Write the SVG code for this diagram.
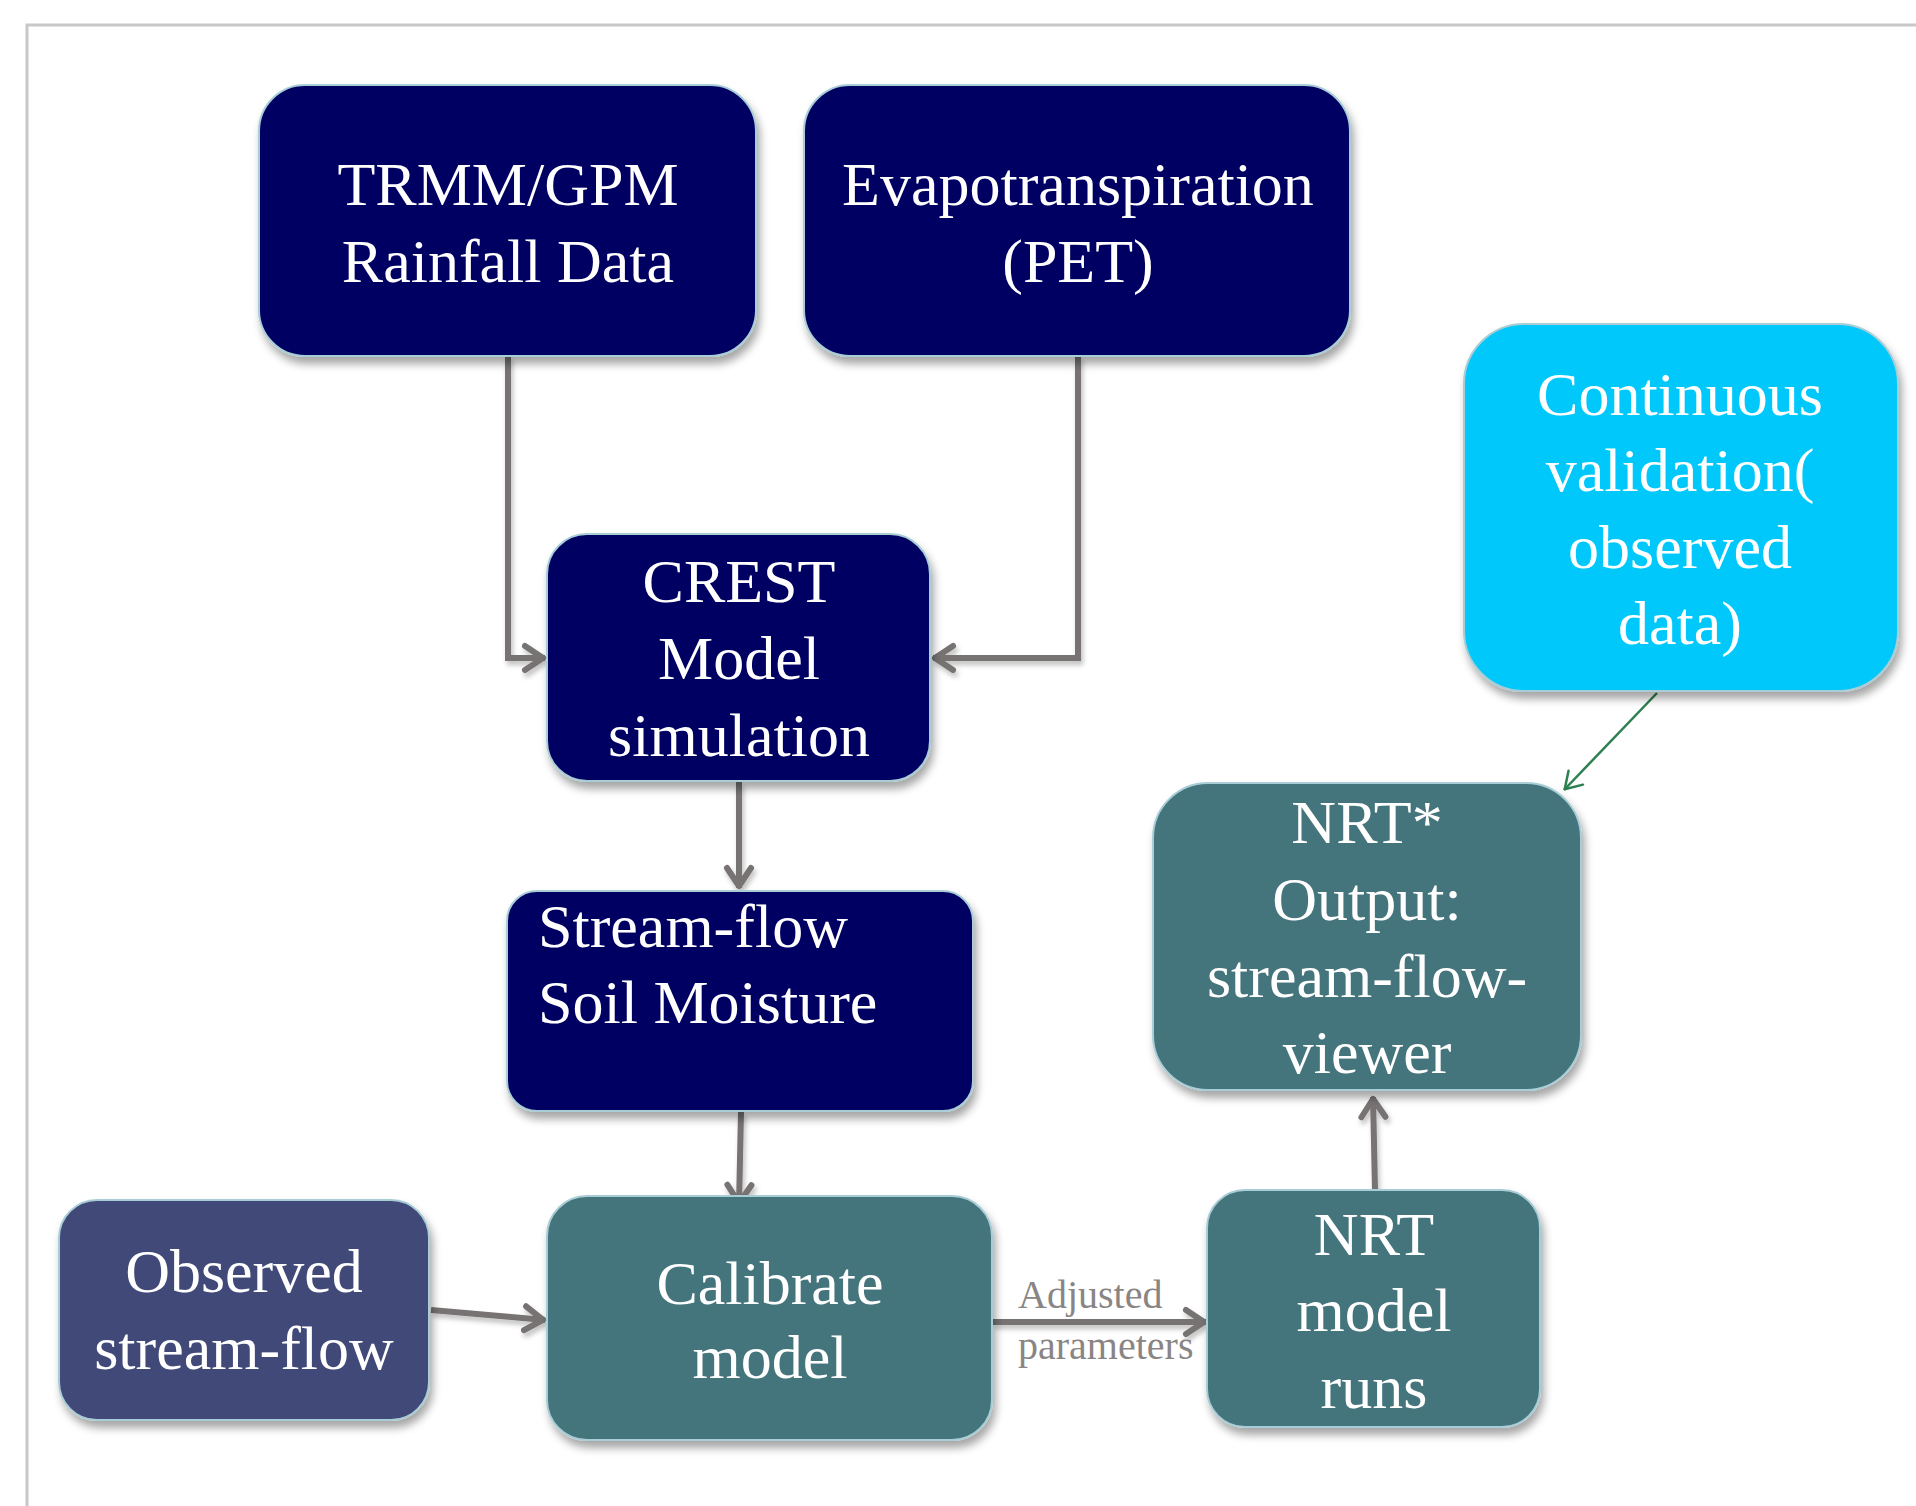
<svg xmlns="http://www.w3.org/2000/svg" width="1916" height="1506" viewBox="0 0 1916 1506">
<style>
.box{stroke:#a9cdd6;stroke-width:2;filter:url(#sh)}
.navy{fill:#020264}
.teal{fill:#45757b}
.obs{fill:#3f4877}
.cyan{fill:#00c8fa}
.t{font-family:"Liberation Serif","Times New Roman",serif;font-size:62px;fill:#ffffff}
.c{text-anchor:middle}
.conn{fill:none;stroke:#777373;stroke-width:6;filter:url(#lsh)}
.lbl{font-family:"Liberation Serif","Times New Roman",serif;font-size:40px;fill:#8a8585}
</style>
<defs>
<filter id="sh" x="-10%" y="-10%" width="125%" height="130%">
<feDropShadow dx="3" dy="7" stdDeviation="4" flood-color="#000" flood-opacity="0.35"/>
</filter>
<filter id="lsh" filterUnits="userSpaceOnUse" x="0" y="0" width="1916" height="1506">
<feDropShadow dx="2" dy="4" stdDeviation="2.5" flood-color="#000" flood-opacity="0.25"/>
</filter>
<marker id="ag" viewBox="-26 -16 30 32" markerWidth="30" markerHeight="32" refX="0" refY="0" orient="auto" markerUnits="userSpaceOnUse">
<path d="M-20,-12 L-2,0 L-20,12" fill="none" stroke="#777373" stroke-width="6" stroke-linecap="round" stroke-linejoin="round"/>
</marker>
<marker id="agr" viewBox="-22 -14 26 28" markerWidth="26" markerHeight="28" refX="0" refY="0" orient="auto" markerUnits="userSpaceOnUse">
<path d="M-17,-10 L-1,0 L-17,10" fill="none" stroke="#2e8050" stroke-width="2.5" stroke-linecap="round" stroke-linejoin="round"/>
</marker>
</defs>
<rect width="1916" height="1506" fill="#ffffff"/>
<path d="M1916,25 H27 V1506" fill="none" stroke="#c8c8c8" stroke-width="3"/>

<g id="connectors">
<path class="conn" d="M508,356 V658 H545" marker-end="url(#ag)"/>
<path class="conn" d="M1078,356 V658 H933" marker-end="url(#ag)"/>
<path class="conn" d="M739,782 V888" marker-end="url(#ag)"/>
<path class="conn" d="M741,1112 L739,1205" marker-end="url(#ag)"/>
<path class="conn" d="M431,1310 L545,1320" marker-end="url(#ag)"/>
<path class="conn" d="M993,1322 H1206" marker-end="url(#ag)"/>
<path class="conn" d="M1375,1190 L1373,1097" marker-end="url(#ag)"/>
<path d="M1657,693 L1564,790" fill="none" stroke="#2e8050" stroke-width="2.5" marker-end="url(#agr)"/>
<text class="lbl" x="1018" y="1308">Adjusted</text>
<text class="lbl" x="1018" y="1359">parameters</text>
</g>

<g id="trmm">
<rect class="box navy" x="259" y="85" width="497" height="271" rx="46"/>
<text class="t c" x="508" y="205">TRMM/GPM</text>
<text class="t c" x="508" y="282">Rainfall Data</text>
</g>

<g id="pet">
<rect class="box navy" x="804" y="85" width="546" height="271" rx="46"/>
<text class="t c" x="1078" y="205">Evapotranspiration</text>
<text class="t c" x="1078" y="282">(PET)</text>
</g>

<g id="validation">
<rect class="box cyan" x="1464" y="324" width="434" height="367" rx="60"/>
<text class="t c" x="1680" y="415">Continuous</text>
<text class="t c" x="1680" y="491">validation(</text>
<text class="t c" x="1680" y="568">observed</text>
<text class="t c" x="1680" y="644">data)</text>
</g>

<g id="crest">
<rect class="box navy" x="547" y="534" width="383" height="247" rx="40"/>
<text class="t c" x="739" y="602">CREST</text>
<text class="t c" x="739" y="679">Model</text>
<text class="t c" x="739" y="756">simulation</text>
</g>

<g id="streamflow">
<rect class="box navy" x="507" y="891" width="466" height="220" rx="30"/>
<text class="t" x="538" y="947">Stream-flow</text>
<text class="t" x="538" y="1023">Soil Moisture</text>
</g>

<g id="nrtout">
<rect class="box teal" x="1153" y="783" width="428" height="307" rx="55"/>
<text class="t c" x="1367" y="843">NRT*</text>
<text class="t c" x="1367" y="920">Output:</text>
<text class="t c" x="1367" y="997">stream-flow-</text>
<text class="t c" x="1367" y="1073">viewer</text>
</g>

<g id="observed">
<rect class="box obs" x="59" y="1200" width="370" height="220" rx="38"/>
<text class="t c" x="244" y="1292">Observed</text>
<text class="t c" x="244" y="1369">stream-flow</text>
</g>

<g id="calibrate">
<rect class="box teal" x="547" y="1196" width="445" height="244" rx="40"/>
<text class="t c" x="770" y="1304">Calibrate</text>
<text class="t c" x="770" y="1378">model</text>
</g>

<g id="nrtruns">
<rect class="box teal" x="1207" y="1190" width="333" height="237" rx="38"/>
<text class="t c" x="1374" y="1255">NRT</text>
<text class="t c" x="1374" y="1331">model</text>
<text class="t c" x="1374" y="1408">runs</text>
</g>
</svg>
